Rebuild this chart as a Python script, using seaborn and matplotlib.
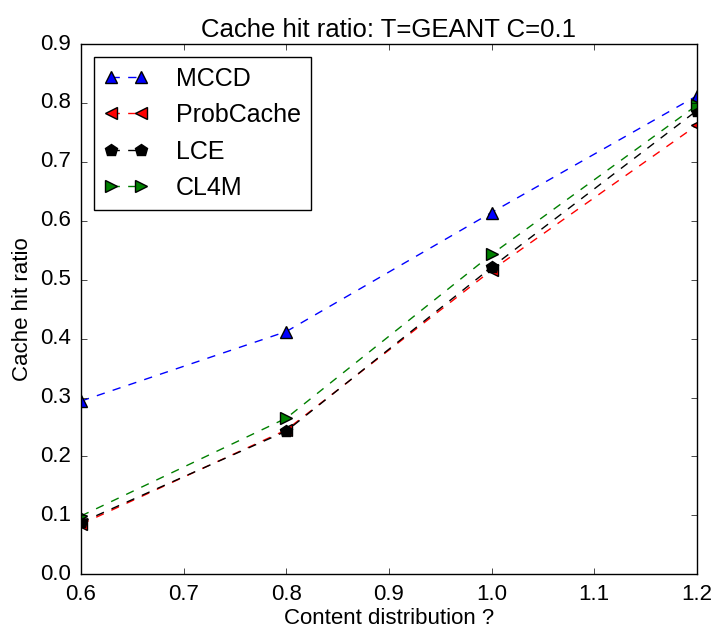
import matplotlib
matplotlib.use("Agg")
import matplotlib.pyplot as plt
import seaborn as sns
import pandas as pd

x_vals = [0.6, 0.8, 1.0, 1.2]
mccd = [0.294, 0.412, 0.614, 0.812]
probcache = [0.085, 0.245, 0.516, 0.762]
lce = [0.088, 0.243, 0.521, 0.787]
cl4m = [0.099, 0.265, 0.543, 0.796]
series_names = ["MCCD", "ProbCache", "LCE", "CL4M"]

plt.style.use("classic")
plt.rcParams["font.family"] = ["Liberation Sans", "DejaVu Sans"]

fig = plt.figure(figsize=(7.11, 6.29), dpi=100, facecolor="white")
ax = fig.add_axes([0.114, 0.087, 0.866, 0.843])

styles = {
    "MCCD": ("blue", "^"),
    "ProbCache": ("red", "<"),
    "LCE": ("black", "p"),
    "CL4M": ("green", ">"),
}
data = {"MCCD": mccd, "ProbCache": probcache, "LCE": lce, "CL4M": cl4m}
for name in series_names:
    c, m = styles[name]
    df = pd.DataFrame({"x": x_vals, "y": data[name]})
    sns.lineplot(data=df, x="x", y="y", ax=ax, color=c, marker=m, markersize=9,
                 markeredgecolor="black", markeredgewidth=1, linestyle="--",
                 linewidth=1, label=name)

ax.set_xlim(0.6, 1.2)
ax.set_ylim(0.0, 0.9)
ax.set_xticks([0.6, 0.7, 0.8, 0.9, 1.0, 1.1, 1.2])
ax.set_yticks([0.0, 0.1, 0.2, 0.3, 0.4, 0.5, 0.6, 0.7, 0.8, 0.9])
ax.tick_params(labelsize=16, pad=7)
ax.set_title("Cache hit ratio: T=GEANT C=0.1", fontsize=18.5)
ax.set_xlabel("Content distribution ?", fontsize=16, labelpad=2)
ax.set_ylabel("Cache hit ratio", fontsize=16)
leg = ax.legend(loc="upper left", numpoints=2, fontsize=18, fancybox=False,
                handlelength=1.8, handletextpad=1.1)
fig.savefig("out.png", dpi=100, facecolor="white")
